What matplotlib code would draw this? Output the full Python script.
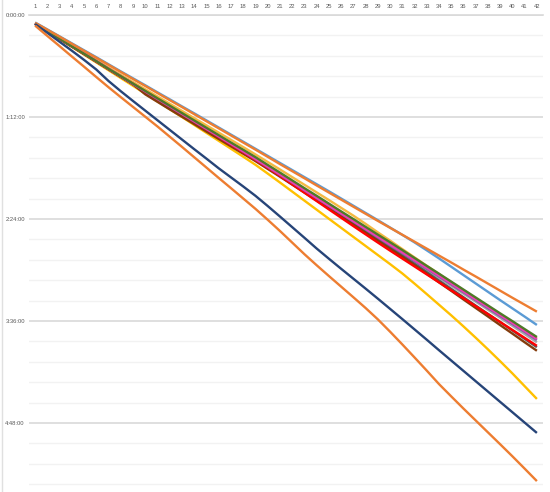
import matplotlib
matplotlib.use("Agg")
import matplotlib.pyplot as plt
from matplotlib.ticker import MultipleLocator, FuncFormatter

# km markers along the top axis
km = list(range(1, 43))

# cumulative elapsed time per runner, in minutes
orange_top = [5.5, 10.4, 15.3, 20.3, 25.3, 30.2, 35.2, 40.2, 45.2, 50.1, 55.1, 60.1, 65.0, 70.0,
              75.0, 80.0, 85.0, 90.0, 95.0, 100.1, 105.2, 110.2, 115.2, 120.3, 125.3, 130.3, 135.3, 140.3,
              145.3, 150.2, 155.1, 160.0, 164.9, 169.8, 174.7, 179.7, 184.6, 189.6, 194.6, 199.6, 204.5, 209.4]
light_blue = [5.3, 10.2, 15.1, 20.0, 24.9, 29.8, 34.8, 39.8, 44.7, 49.6, 54.6, 59.5, 64.5, 69.4,
              74.4, 79.4, 84.4, 89.4, 94.4, 99.4, 104.4, 109.4, 114.4, 119.4, 124.4, 129.5, 134.6, 139.7,
              144.8, 150.0, 155.2, 160.5, 166.1, 171.8, 177.7, 183.6, 189.5, 195.4, 201.3, 207.1, 212.9, 218.8]
green = [6.0, 11.3, 16.6, 22.0, 27.3, 32.6, 38.0, 43.2, 48.4, 53.6, 58.8, 64.0, 69.2, 74.4,
         79.6, 84.8, 90.0, 95.1, 100.3, 105.8, 111.2, 116.7, 122.2, 127.6, 133.1, 138.6, 144.0, 149.5,
         155.0, 160.4, 165.9, 171.5, 177.1, 182.6, 188.2, 193.8, 199.4, 205.0, 210.6, 216.1, 221.7, 227.3]
pink = [5.8, 11.1, 16.4, 21.8, 27.1, 32.5, 37.9, 43.2, 48.5, 53.8, 59.1, 64.4, 69.7, 75.0,
        80.3, 85.6, 90.9, 96.2, 101.5, 107.0, 112.5, 118.0, 123.5, 129.0, 134.5, 140.0, 145.5, 151.0,
        156.5, 162.0, 167.5, 173.0, 178.5, 184.0, 189.5, 195.1, 200.7, 206.2, 211.8, 217.4, 223.0, 228.7]
purple = [5.9, 11.2, 16.5, 21.9, 27.2, 32.6, 38.0, 43.3, 48.7, 54.0, 59.3, 64.6, 69.9, 75.2,
          80.5, 85.8, 91.1, 96.4, 101.8, 107.3, 112.8, 118.3, 123.8, 129.3, 134.8, 140.3, 145.8, 151.4,
          157.0, 162.6, 168.1, 173.6, 179.1, 184.6, 190.1, 195.7, 201.3, 206.9, 212.5, 218.1, 223.7, 229.4]
gray = [6.1, 11.4, 16.7, 22.1, 27.4, 32.8, 38.2, 43.5, 48.8, 54.2, 59.5, 64.8, 70.1, 75.4,
        80.7, 86.0, 91.3, 96.6, 102.0, 107.5, 113.0, 118.6, 124.1, 129.7, 135.2, 140.8, 146.3, 151.9,
        157.5, 163.1, 168.7, 174.3, 179.9, 185.5, 191.1, 196.7, 202.3, 208.0, 213.7, 219.4, 225.2, 231.0]
red = [6.0, 11.3, 16.6, 22.0, 27.3, 32.7, 38.1, 43.4, 48.7, 54.1, 59.4, 64.7, 70.0, 75.4,
       80.8, 86.2, 91.6, 97.0, 102.4, 107.9, 113.6, 119.5, 125.4, 131.3, 137.2, 143.1, 149.0, 154.8,
       160.6, 166.3, 171.9, 177.5, 183.1, 188.7, 194.3, 199.9, 205.5, 211.1, 216.7, 222.3, 227.9, 233.5]
brown = [6.3, 11.6, 16.9, 22.3, 27.6, 32.9, 38.3, 43.6, 48.9, 56.0, 61.3, 66.6, 71.8, 77.0,
         82.3, 87.5, 92.7, 97.9, 103.1, 108.6, 114.1, 119.7, 125.3, 130.9, 136.5, 142.1, 147.8, 153.5,
         159.2, 164.9, 170.6, 176.6, 182.6, 188.7, 194.7, 200.8, 206.8, 212.8, 218.9, 224.9, 231.0, 237.0]
dark_gray = [6.2, 11.5, 16.8, 22.2, 27.5, 32.9, 38.3, 43.7, 49.0, 54.4, 59.7, 65.0, 70.3, 75.6,
             80.9, 86.2, 91.5, 96.9, 102.3, 107.8, 113.3, 118.9, 124.5, 130.1, 135.7, 141.3, 146.9, 152.6,
             158.3, 164.0, 169.7, 175.6, 181.5, 187.4, 193.3, 199.2, 205.1, 211.0, 216.8, 222.7, 228.6, 234.5]
light_orange = [5.9, 11.1, 16.3, 21.5, 26.7, 31.9, 37.1, 42.2, 47.3, 52.4, 57.5, 62.6, 67.7, 72.8,
                77.9, 83.0, 88.1, 93.2, 98.4, 103.7, 109.0, 114.4, 119.8, 125.2, 130.6, 136.1, 141.6, 147.4,
                153.4, 159.2, 165.2, 171.1, 177.0, 182.8, 188.6, 194.4, 200.2, 206.0, 211.6, 217.2, 222.8, 228.4]
yellow = [6.0, 11.5, 17.0, 22.5, 28.0, 33.5, 39.0, 44.5, 50.0, 55.5, 61.0, 66.5, 72.0, 77.6,
          83.2, 88.8, 94.4, 100.0, 105.7, 111.9, 118.2, 124.6, 131.0, 137.4, 143.8, 150.2, 156.6, 163.0,
          169.4, 175.8, 182.4, 189.6, 197.0, 204.5, 212.0, 219.8, 227.8, 236.0, 244.4, 253.0, 262.0, 271.0]
navy = [6.4, 12.6, 18.9, 25.2, 31.7, 38.5, 46.6, 53.8, 60.7, 67.5, 74.3, 81.1, 87.9, 94.7,
        101.4, 108.2, 114.6, 121.0, 127.6, 134.8, 142.2, 149.7, 157.2, 164.8, 172.0, 179.1, 186.1, 193.1,
        200.2, 207.4, 214.6, 221.9, 229.2, 236.6, 243.9, 251.2, 258.5, 265.8, 273.1, 280.4, 287.7, 295.0]
orange_bottom = [7.5, 14.8, 22.0, 29.3, 36.5, 43.8, 51.0, 58.0, 64.9, 71.8, 78.7, 85.9, 93.1, 100.4,
                 107.7, 115.0, 122.2, 129.5, 136.8, 144.5, 152.4, 160.6, 168.8, 176.6, 184.2, 191.7, 199.2, 206.8,
                 214.8, 223.5, 232.5, 241.7, 251.0, 260.5, 269.2, 277.8, 286.2, 294.6, 303.0, 311.5, 320.2, 329.0]

series = [
    (light_orange, "#F4B942"),
    (yellow, "#FFC000"),
    (gray, "#A5A5A5"),
    (dark_gray, "#595959"),
    (brown, "#843C0C"),
    (red, "#FF0000"),
    (purple, "#7B5EA7"),
    (pink, "#F03CB4"),
    (green, "#4E7A27"),
    (light_blue, "#5B9BD5"),
    (orange_top, "#ED7D31"),
    (navy, "#264478"),
    (orange_bottom, "#ED7D31"),
]


def hms(v, pos):
    s = int(round(v * 60))
    return "%d:%02d:%02d" % (s // 3600, (s % 3600) // 60, s % 60)


plt.rcParams["font.family"] = ["Liberation Sans", "DejaVu Sans"]

fig = plt.figure(figsize=(5.5, 4.92), dpi=100)
ax = fig.add_axes([29 / 550, 0, 514 / 550, 477 / 492])

for vals, col in series:
    ax.plot(km, vals, color=col, lw=1.7, solid_capstyle="butt", zorder=3)

ax.set_xlim(0.5, 42.5)
ax.set_ylim(336.7, 0)
ax.xaxis.tick_top()
ax.set_xticks(km)
ax.tick_params(axis="x", length=0, labelsize=4.2, labelcolor="#595959", pad=4)
ax.yaxis.set_major_locator(MultipleLocator(72))
ax.yaxis.set_minor_locator(MultipleLocator(14.4))
ax.yaxis.set_major_formatter(FuncFormatter(hms))
ax.tick_params(axis="y", which="both", length=0, labelsize=4.2, labelcolor="#595959", pad=3)
ax.grid(axis="y", which="major", color="#D9D9D9", lw=1.2)
ax.grid(axis="y", which="minor", color="#F2F2F2", lw=1.0)
for s in ["left", "right", "bottom"]:
    ax.spines[s].set_visible(False)
ax.spines["top"].set_color("#D9D9D9")
ax.spines["top"].set_linewidth(1.2)

# sheet border on the far left
fig.add_artist(plt.Line2D([2 / 550, 2 / 550], [0, 1], color="#E0E0E0", lw=1))

fig.savefig("out.png", dpi=100, facecolor="white")
